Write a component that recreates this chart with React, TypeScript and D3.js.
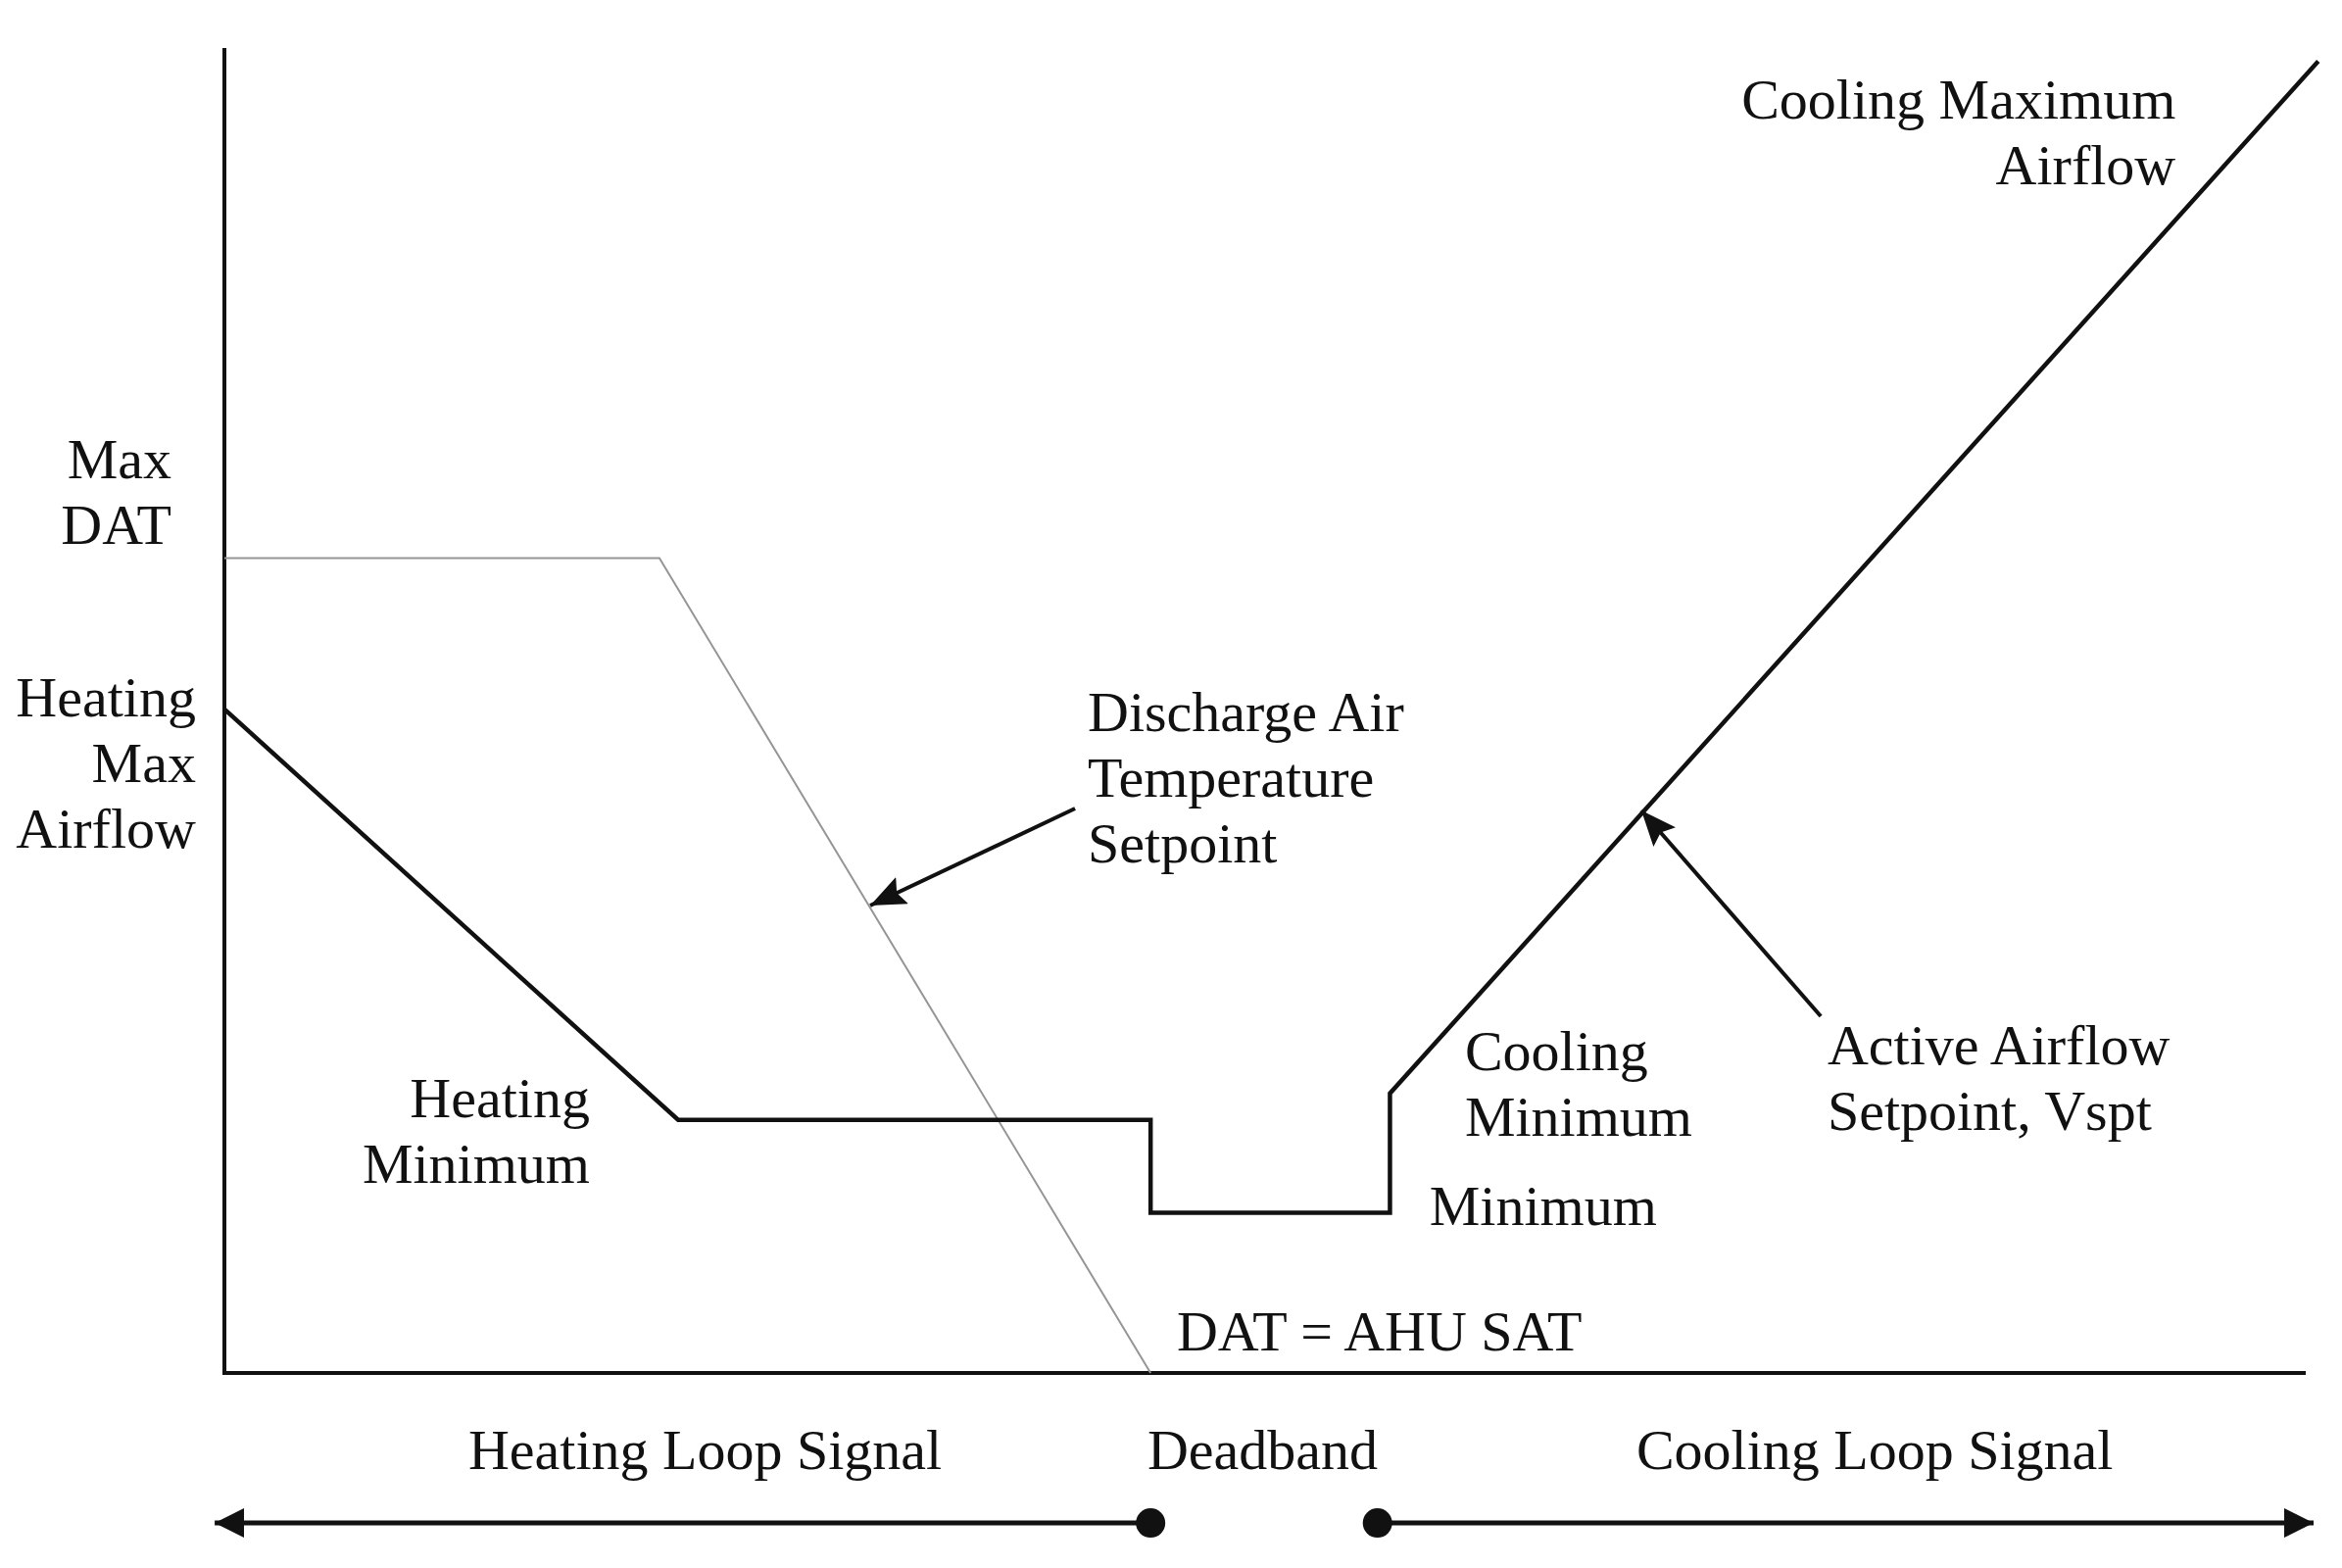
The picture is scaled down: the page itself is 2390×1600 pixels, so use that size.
import * as d3 from "d3"

// Active airflow setpoint (Vspt) vs loop signal, in % of the plot range
const airflowX = [0, 21.8, 44.5, 44.5, 56, 56, 100.6]
const airflowY = [50.1, 19.1, 19.1, 12.1, 12.1, 21.1, 99]

// Discharge air temperature setpoint
const datX = [0, 20.9, 44.5]
const datY = [61.5, 61.5, 0]

// Loop signal ranges at the bottom
const heatingSignal = [44.5, -0.56]
const coolingSignal = [55.4, 100.47]
const signalY = -11.32

// Annotations (anchor in data units)
const labels = [
  { lines: ["Cooling Maximum", "Airflow"], x: 93.75, y: 94.67, anchor: "end" },
  { lines: ["Max", "DAT"], x: -2.54, y: 67.53, anchor: "end" },
  { lines: ["Heating", "Max", "Airflow"], x: -1.37, y: 49.56, anchor: "end" },
  { lines: ["Discharge Air", "Temperature", "Setpoint"], x: 41.48, y: 48.45, anchor: "start" },
  { lines: ["Heating", "Minimum"], x: 17.56, y: 19.3, anchor: "end" },
  { lines: ["Cooling", "Minimum"], x: 59.6, y: 22.86, anchor: "start" },
  { lines: ["Minimum"], x: 57.9, y: 11.17, anchor: "start" },
  { lines: ["Active Airflow", "Setpoint, Vspt"], x: 77.02, y: 23.3, anchor: "start" },
  { lines: ["DAT = AHU SAT"], x: 45.76, y: 1.7, anchor: "start" },
  { lines: ["Heating Loop Signal"], x: 11.72, y: -7.25, anchor: "start" },
  { lines: ["Deadband"], x: 44.35, y: -7.25, anchor: "start" },
  { lines: ["Cooling Loop Signal"], x: 67.84, y: -7.25, anchor: "start" },
]

// Pointer arrows: [tailX, tailY, tipX, tipY]
const pointers = [
  [40.87, 42.6, 31.03, 35.28],
  [76.7, 26.92, 68.08, 42.46],
]

const width = 2390
const height = 1600

export default function App() {
  const x = d3.scaleLinear().domain([0, 100]).range([229, 2353])
  const y = d3.scaleLinear().domain([0, 100]).range([1401, 49])

  const path = d3
    .line<[number, number]>()
    .x((d) => x(d[0]))
    .y((d) => y(d[1]))

  const airflowPath = path(airflowX.map((v, i) => [v, airflowY[i]] as [number, number]))
  const datPath = path(datX.map((v, i) => [v, datY[i]] as [number, number]))

  const ink = "#111"
  const font = "'Liberation Serif', 'Times New Roman', serif"

  return (
    <svg
      width={width}
      height={height}
      style={{ position: "absolute", left: 0, top: 0, background: "#fff" }}
    >
      <defs>
        <marker id="ptr" markerUnits="userSpaceOnUse" markerWidth="40" markerHeight="34" refX="36" refY="15" orient="auto">
          <path d="M0,0 L36,15 L0,30 L6,15 Z" fill={ink} />
        </marker>
        <marker id="sig" markerUnits="userSpaceOnUse" markerWidth="32" markerHeight="30" refX="30" refY="15" orient="auto">
          <path d="M0,0 L30,15 L0,30 Z" fill={ink} />
        </marker>
      </defs>

      {/* axes */}
      <line x1={x(0)} x2={x(0)} y1={y(0) + 2} y2={y(100)} stroke={ink} strokeWidth={4} />
      <line x1={x(0)} x2={x(100)} y1={y(0)} y2={y(0)} stroke={ink} strokeWidth={4} />

      {/* DAT setpoint */}
      <path d={datPath ?? ""} fill="none" stroke="#959595" strokeWidth={2} />

      {/* airflow setpoint */}
      <path d={airflowPath ?? ""} fill="none" stroke={ink} strokeWidth={4.5} strokeLinejoin="miter" />

      {/* pointers */}
      {pointers.map((p, i) => (
        <line
          key={i}
          x1={x(p[0])}
          y1={y(p[1])}
          x2={x(p[2])}
          y2={y(p[3])}
          stroke={ink}
          strokeWidth={4}
          markerEnd="url(#ptr)"
        />
      ))}

      {/* loop signal arrows */}
      {[heatingSignal, coolingSignal].map((s, i) => (
        <g key={i}>
          <line
            x1={x(s[0])}
            x2={x(s[1]) - (s[1] > s[0] ? 2 : -2)}
            y1={y(signalY)}
            y2={y(signalY)}
            stroke={ink}
            strokeWidth={5}
            markerEnd="url(#sig)"
          />
          <circle cx={x(s[0])} cy={y(signalY)} r={15} fill={ink} />
        </g>
      ))}

      {/* labels */}
      {labels.map((l, i) => (
        <text
          key={i}
          x={x(l.x)}
          y={y(l.y)}
          textAnchor={l.anchor}
          fontFamily={font}
          fontSize={58}
          fill={ink}
        >
          {l.lines.map((t, j) => (
            <tspan key={j} x={x(l.x)} dy={j === 0 ? 0 : 67}>
              {t}
            </tspan>
          ))}
        </text>
      ))}
    </svg>
  )
}
